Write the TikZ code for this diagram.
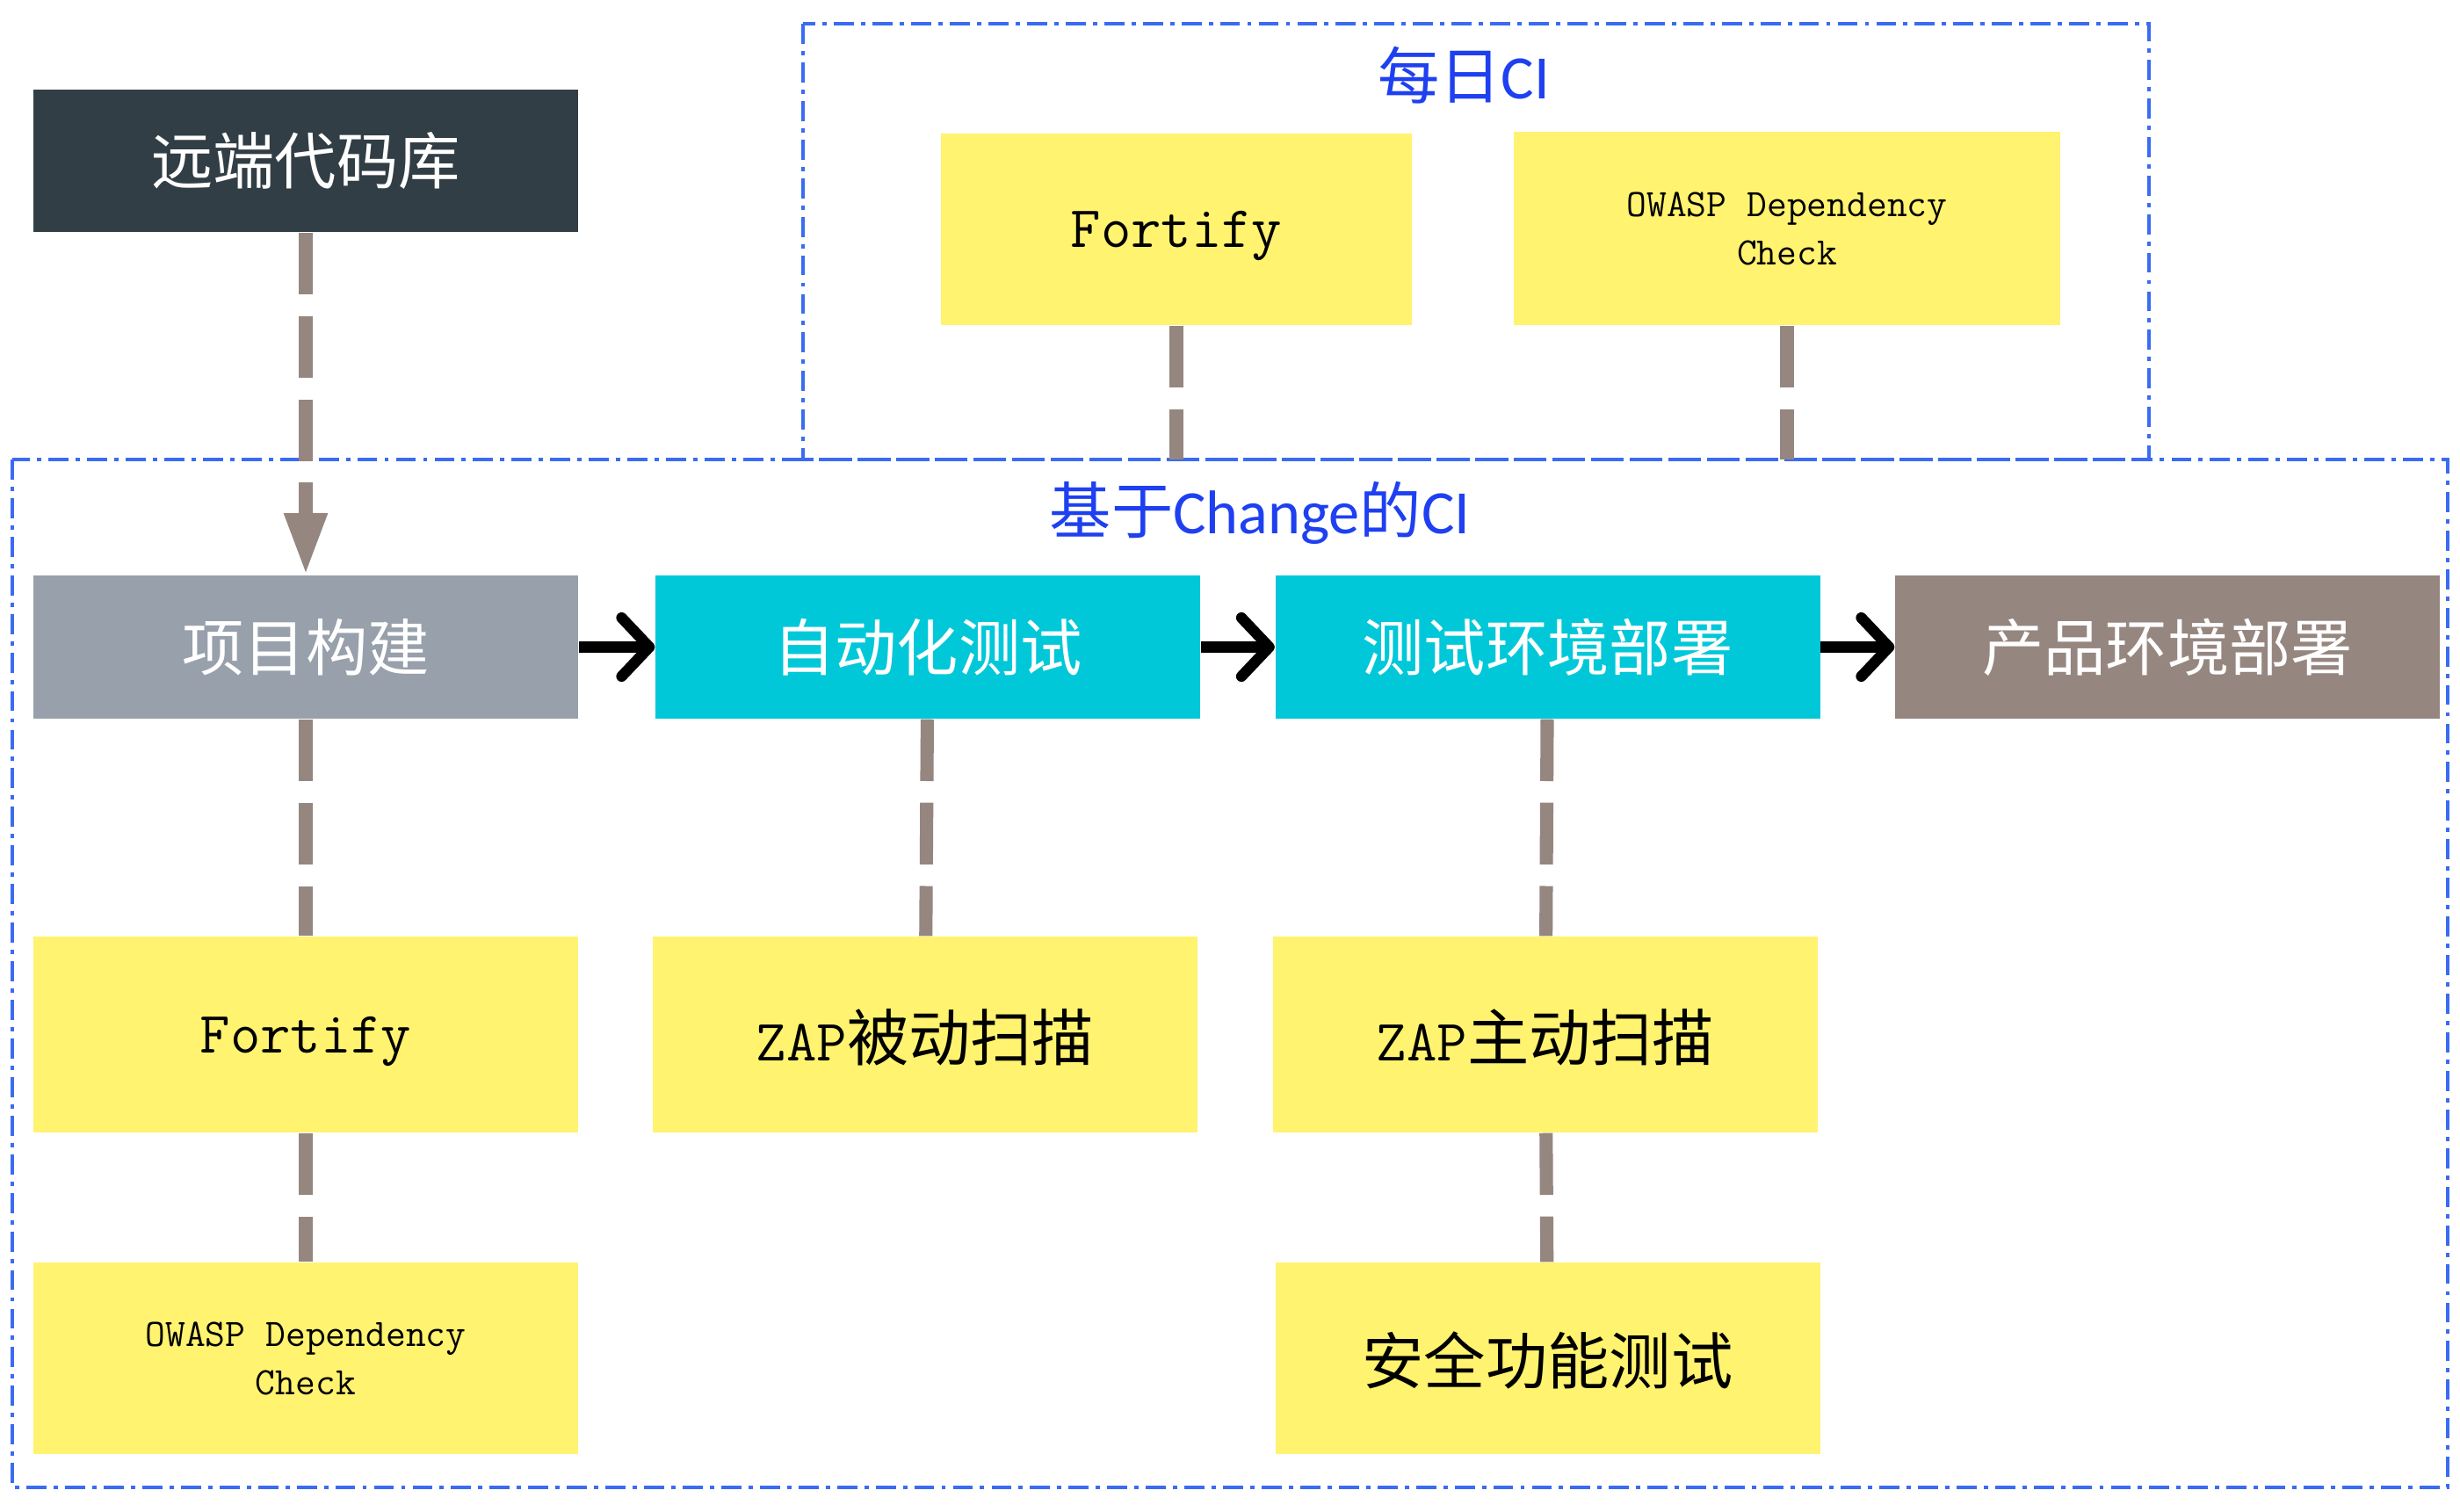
\documentclass[tikz,border=0pt]{standalone}
\usepackage{fontspec}
\usetikzlibrary{arrows.meta, positioning}
\newfontfamily\cjk{Noto Sans CJK SC}
\newfontfamily\cisans{Carlito}
\newcommand\cnfont{\cjk\fontsize{20}{24}\selectfont}
\definecolor{remotedark}{HTML}{323E45}
\definecolor{buildgrey}{HTML}{97A0AB}
\definecolor{testcyan}{HTML}{00C8D8}
\definecolor{prodbrown}{HTML}{968680}
\definecolor{toolyellow}{HTML}{FFF36F}
\definecolor{linkgrey}{HTML}{958680}
\definecolor{areablue}{HTML}{3A6BF2}
\definecolor{titleblue}{HTML}{1E40F0}

\begin{document}
\begin{tikzpicture}[y=-1cm,
    box/.style={rectangle, minimum width=6.2cm, minimum height=1.63cm, inner sep=0pt, font=\cnfont, text=white},
    tool/.style={rectangle, fill=toolyellow, minimum width=6.2cm, minimum height=2.2cm, inner sep=0pt, text depth=0pt, font=\ttfamily\fontsize{19}{23}\selectfont},
    small/.style={font=\ttfamily\fontsize{12.6}{15.7}\selectfont, align=center},
    link/.style={draw=linkgrey, line width=4.3pt, dash pattern=on 20pt off 7pt},
    flow/.style={draw=black, line width=3.5pt, -{Straight Barb[length=9pt,width=19pt,round]}},
    area/.style={draw=areablue, line width=0.9pt, dash pattern=on 6.5pt off 2.3pt on 1.4pt off 2.3pt},
    title/.style={text=titleblue, font=\fontsize{20}{24}\selectfont}]
    \useasboundingbox (0,0) rectangle (28,17.2);

    % 两个虚线区域
    \draw[area] (0.14,5.23) rectangle (27.86,16.93);
    \draw[area] (9.14,0.27) rectangle (24.46,5.23);
    \node[title] (dailytitle) at (16.66,0.86) {{\cjk 每日}{\cisans CI}};
    \node[title] (changetitle) at (14.34,5.84) {{\cjk 基于}{\cisans Change}{\cjk 的}{\cisans CI}};

    % 远端代码库和每日CI
    \node[box, fill=remotedark, minimum height=1.62cm] (remote) at (3.48,1.83) {远端代码库};
    \node[tool, minimum width=5.36cm, minimum height=2.18cm] (dfortify) at (13.39,2.61) {Fortify};
    \node[tool, small, minimum width=6.22cm] (dowasp) at (20.34,2.60) {OWASP Dependency\\Check};
    \coordinate (dfortifyend) at (13.39,5.23);
    \coordinate (dowaspend) at (20.34,5.23);

    % 流水线
    \node[box, fill=buildgrey] (build) at (3.48,7.365) {项目构建};
    \node[box, fill=testcyan] (autotest) at (10.56,7.365) {自动化测试};
    \node[box, fill=testcyan] (testdeploy) at (17.615,7.365) {测试环境部署};
    \node[box, fill=prodbrown] (proddeploy) at (24.67,7.365) {产品环境部署};

    % 安全工具
    \node[tool, minimum height=2.23cm] (fortify) at (3.48,11.775) {Fortify};
    \node[tool, minimum height=2.23cm] (zappassive) at (10.53,11.775) {ZAP{\cnfont 被动扫描}};
    \node[tool, minimum height=2.23cm] (zapactive) at (17.59,11.775) {ZAP{\cnfont 主动扫描}};
    \node[tool, small, minimum height=2.18cm] (owasp) at (3.48,15.46) {OWASP Dependency\\Check};
    \node[tool, minimum height=2.18cm] (secfunc) at (17.615,15.46) {\cnfont 安全功能测试};

    % 连线
    \draw[link, -{Triangle[length=20pt,width=13pt]}] (remote) -- (build);
    \draw[link] (dfortify) -- (dfortifyend);
    \draw[link] (dowasp) -- (dowaspend);
    \draw[link] (build) -- (fortify);
    \draw[link] (fortify) -- (owasp);
    \draw[link] (autotest) -- (zappassive);
    \draw[link] (testdeploy) -- (zapactive);
    \draw[link] (zapactive) -- (secfunc);
    \foreach \a/\b in {build/autotest, autotest/testdeploy, testdeploy/proddeploy} {
        \draw[flow] (\a) -- (\b);
    }
\end{tikzpicture}
\end{document}
